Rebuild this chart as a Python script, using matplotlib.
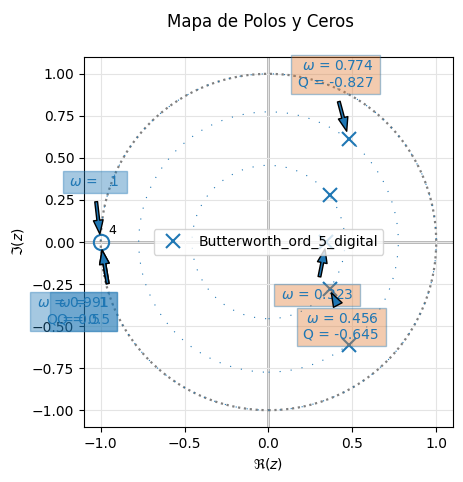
import numpy as np
import matplotlib
matplotlib.use('Agg')
from matplotlib import pyplot as plt
from matplotlib.patches import Circle

# polos y ceros
polos_re = [0.478, 0.364, 0.345, 0.364, 0.478]
polos_im = [0.615, 0.282, 0.0, -0.282, -0.615]
ceros_re = [-1.0]
ceros_im = [0.0]
mult_cero = '4'
radios = [1.0, 0.774, 0.456]

# anotaciones: (texto, xy, xytext, ha)
anot_polos = [
    ('$\\omega$ = 0.774\nQ = -0.827', (0.478, 0.615), (0.40, 0.996), 'center'),
    ('$\\omega$ = 0.323', (0.345, 0.0), (0.29, -0.317), 'center'),
    ('$\\omega$ = 0.456\nQ = -0.645', (0.364, -0.282), (0.434, -0.504), 'center'),
]
anot_ceros = [
    ('$\\omega$ =   1', (-1.0, 0.0), (-1.036, 0.356), 'center'),
    ('$\\omega$ = 0.991\nQ = 0.5', (-1.0, 0.0), (-0.946, -0.413), 'right'),
    ('$\\omega$ =   1\nQ = 0.5', (-1.0, 0.0), (-0.946, -0.413), 'right'),
]

fig = plt.figure(figsize=(4.63, 4.82), dpi=100)
ax = fig.add_axes([0.1814, 0.1141, 0.797, 0.7676])

ax.grid(True, color='#e4e4e4', lw=0.8, zorder=0)
ax.axhline(0, color='#b0b0b0', lw=2, zorder=1)
ax.axvline(0, color='#b0b0b0', lw=2, zorder=1)

ax.add_patch(Circle((0, 0), 1.0, fill=False, color='gray', ls=':', lw=1.6, zorder=2))
for r in radios:
    ax.add_patch(Circle((0, 0), r, fill=False, color='C0', ls=(0, (1, 9)), lw=0.8, zorder=2))

ax.plot(polos_re, polos_im, 'x', color='C0', ms=10, mew=1.5,
        label='Butterworth_ord_5_digital', zorder=3)
ax.plot(ceros_re, ceros_im, 'o', mfc='none', mec='C0', ms=11, mew=1.5, zorder=3)
ax.text(-0.955, 0.045, mult_cero, fontsize=9)

flecha = dict(facecolor='C0', edgecolor='black', width=2, headwidth=7, headlength=10, shrink=0.15)
for txt, xy, xyt, ha in anot_polos:
    ax.annotate(txt, xy=xy, xytext=xyt, color='C0', fontsize=10, ha=ha, va='center',
                multialignment='right',
                bbox=dict(boxstyle='square,pad=0.5', mutation_aspect=0.6,
                          fc='#e17f39', ec='C0', alpha=0.4),
                arrowprops=flecha, zorder=4)
for txt, xy, xyt, ha in anot_ceros:
    ax.annotate(txt, xy=xy, xytext=xyt, color='C0', fontsize=10, ha=ha, va='center',
                multialignment='center',
                bbox=dict(boxstyle='square,pad=0.5', mutation_aspect=0.6,
                          fc='C0', ec='C0', alpha=0.4),
                arrowprops=flecha, zorder=4)

ax.set_xlim(-1.1, 1.1)
ax.set_ylim(-1.1, 1.1)
ax.set_xticks([-1.0, -0.5, 0.0, 0.5, 1.0])
ax.set_yticks([-1.0, -0.75, -0.5, -0.25, 0.0, 0.25, 0.5, 0.75, 1.0])
ax.set_xlabel('$\\Re(z)$')
ax.set_ylabel('$\\Im(z)$')
ax.legend(loc='center', fontsize=10)
fig.text(0.562, 0.955, 'Mapa de Polos y Ceros', ha='center', va='center', fontsize=12)

fig.savefig('out.png', dpi=100)
